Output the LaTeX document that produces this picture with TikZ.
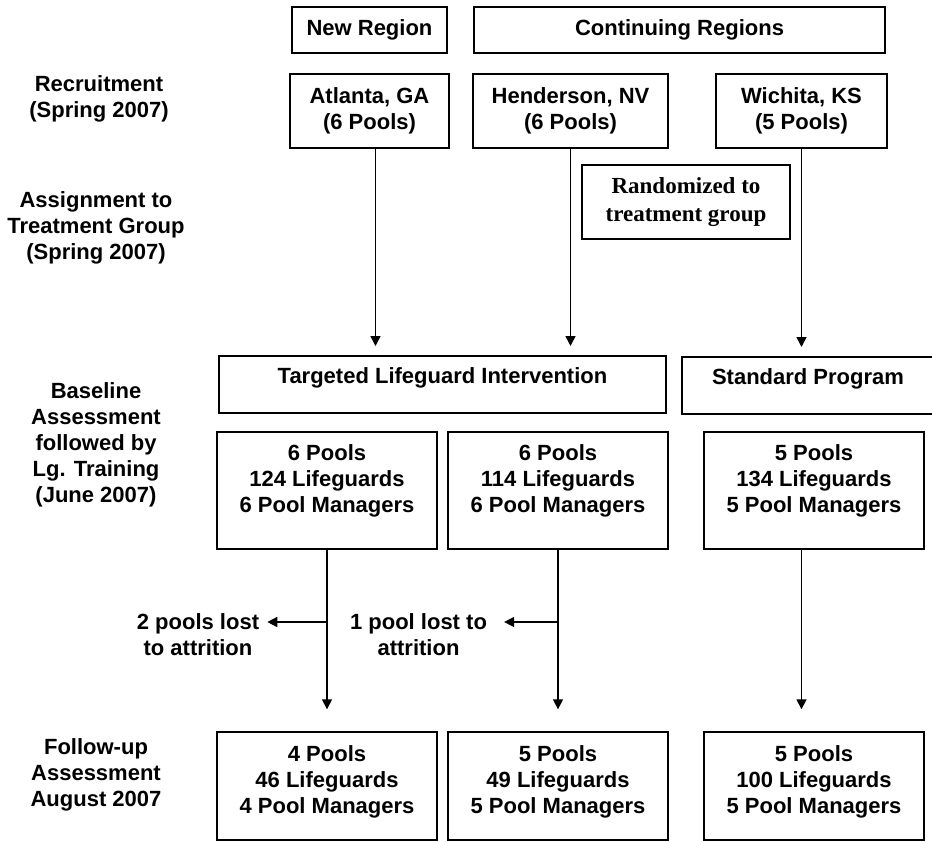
\documentclass[tikz,border=0pt]{standalone}
\usepackage{fontspec}
\setmainfont{Liberation Sans}
\newfontfamily\randfont{Liberation Serif}
\usetikzlibrary{arrows.meta}
\begin{document}
\begin{tikzpicture}[x=1pt,y=-1pt,font=\fontsize{22}{26}\selectfont\bfseries,
    box/.style={draw,line width=1.4pt,align=center,inner sep=0pt},
    headbox/.style={box,line width=2pt},
    tophead/.style={text height=16pt,text depth=19pt},
    stage/.style={align=center,inner sep=2pt},
    arr/.style={line width=1.6pt,-{Triangle[width=10pt,length=10pt]}}]
    \useasboundingbox (0,0) rectangle (932,841);
    % region headers
    \node[headbox,minimum width=155,minimum height=46] (newreg) at (369.5,30) {New Region};
    \node[headbox,minimum width=411,minimum height=46] (contreg) at (679.5,30) {Continuing Regions};
    % recruited sites
    \node[box,minimum width=159,minimum height=74] (atl) at (369.5,111) {Atlanta, GA\\(6 Pools)};
    \node[box,minimum width=195,minimum height=74] (hen) at (570.5,111) {Henderson, NV\\(6 Pools)};
    \node[box,minimum width=171,minimum height=74] (wic) at (801.5,111) {Wichita, KS\\(5 Pools)};
    \node[box,minimum width=208,minimum height=74,font=\fontsize{23}{28}\selectfont\randfont\bfseries] (rand) at (686,202) {Randomized to\\treatment group};
    % treatment groups
    \node[headbox,tophead,minimum width=447,minimum height=57] (targ) at (442.5,384.5) {Targeted Lifeguard Intervention};
    \node[headbox,tophead,minimum width=252,minimum height=57] (std) at (808,385.5) {Standard Program};
    % baseline and follow-up
    \foreach[count=\i] \x/\a/\b/\c/\d in {327/6/124/4/46,558/6/114/5/49,814/5/134/5/100} {
        \node[box,text depth=24pt,minimum width=220,minimum height=117] (base\i) at (\x,490.5) {\a\ Pools\\\b\ Lifeguards\\\a\ Pool Managers};
        \node[box,text depth=12pt,minimum width=220,minimum height=108] (fol\i) at (\x,786) {\c\ Pools\\\d\ Lifeguards\\\c\ Pool Managers};
    }
    % stage labels
    \node[stage] (rec) at (99,99) {Recruitment\\(Spring 2007)};
    \node[stage] (asg) at (96,228) {Assignment to\\Treatment Group\\(Spring 2007)};
    \node[stage] (bas) at (96,445) {Baseline\\Assessment\\followed by\\Lg. Training\\(June 2007)};
    \node[stage] (fup) at (96,775) {Follow-up\\Assessment\\August 2007};
    % attrition
    \node[stage] (att1) at (198,635) {2 pools lost\\to attrition};
    \node[stage] (att2) at (418.5,635) {1 pool lost to\\attrition};
    \coordinate (br1) at (327,622);
    \coordinate (br2) at (558,622);
    % connectors
    \draw[arr,shorten >=9pt] ([xshift=6pt]atl.south) -- ([xshift=6pt]atl.south |- targ.north);
    \draw[arr,shorten >=9pt] (hen.south) -- (hen.south |- targ.north);
    \draw[arr,shorten >=9pt] (wic.south) -- (wic.south |- std.north);
    \draw[arr,shorten >=22pt] (base1.south) -- (fol1.north);
    \draw[arr,shorten >=22pt] (base2.south) -- (fol2.north);
    \draw[arr,shorten >=22pt] (base3.south -| wic.south) -- (fol3.north -| wic.south);
    \draw[arr,shorten >=6pt] (br1) -- (br1 -| att1.east);
    \draw[arr,shorten >=15pt] (br2) -- (br2 -| att2.east);
\end{tikzpicture}
\end{document}
